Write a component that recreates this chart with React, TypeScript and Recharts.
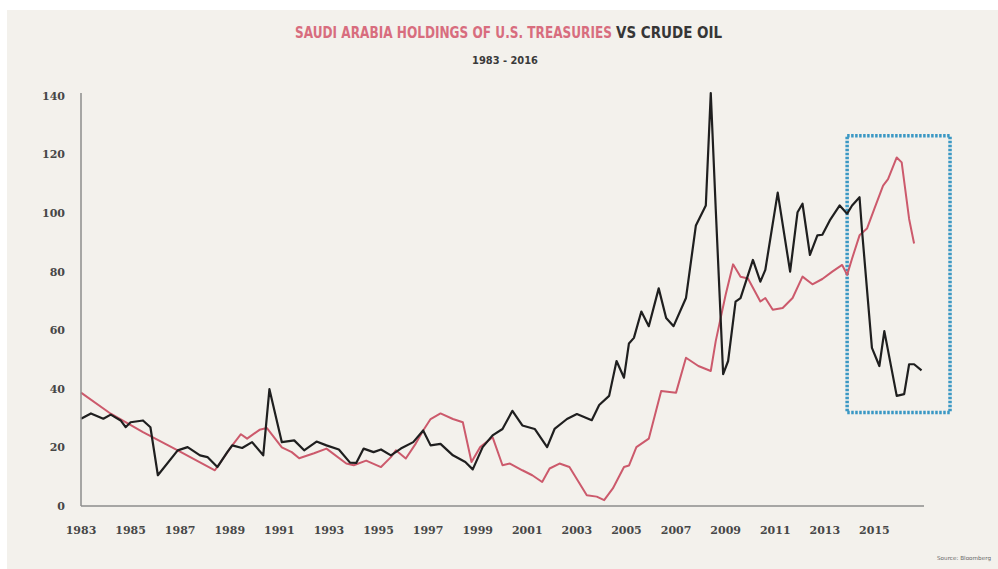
import { LineChart, Line, XAxis, YAxis, ReferenceArea } from "recharts";

// crude oil, $/barrel (black line)
const oilYears = [
  1983.0, 1983.4, 1983.9, 1984.2, 1984.6, 1984.8, 1985.0, 1985.5, 1985.8, 1986.1,
  1986.9, 1987.3, 1987.8, 1988.1, 1988.5, 1988.9, 1989.1, 1989.5, 1989.9, 1990.35,
  1990.6, 1991.1, 1991.6, 1992.0, 1992.5, 1992.9, 1993.4, 1993.85, 1994.1, 1994.4,
  1994.8, 1995.1, 1995.5, 1995.9, 1996.4, 1996.8, 1997.1, 1997.5, 1998.0, 1998.5,
  1998.8, 1999.2, 1999.6, 2000.0, 2000.4, 2000.8, 2001.3, 2001.8, 2002.1, 2002.6,
  2003.0, 2003.6, 2003.9, 2004.3, 2004.6, 2004.9, 2005.1, 2005.3, 2005.6, 2005.9,
  2006.3, 2006.6, 2006.9, 2007.4, 2007.8, 2008.2, 2008.4, 2008.6, 2008.9, 2009.1,
  2009.4, 2009.6, 2010.1, 2010.4, 2010.6, 2011.1, 2011.6, 2011.9, 2012.1, 2012.4,
  2012.7, 2012.9, 2013.2, 2013.6, 2013.9, 2014.1, 2014.4, 2014.5, 2014.9, 2015.2,
  2015.4, 2015.9, 2016.2, 2016.4, 2016.6, 2016.9,
];
const oilValues = [
  29.8, 31.6, 29.8, 31.2, 29.2, 26.9, 28.6, 29.2, 26.9, 10.5,
  19, 20.1, 17.3, 16.7, 13.3, 18.4, 20.7, 19.8, 21.8, 17.3,
  39.9, 21.8, 22.4, 19, 22, 20.7, 19.3, 14.8, 14.7, 19.6,
  18.4, 19.3, 17.3, 19.6, 21.8, 25.8, 20.7, 21.2, 17.3, 15,
  12.5, 20.1, 24.1, 26.3, 32.5, 27.5, 26.3, 20.1, 26.3, 29.7,
  31.4, 29.3, 34.5, 37.6, 49.5, 43.8, 55.5, 57.4, 66.4, 61.4,
  74.3, 64.2, 61.4, 71, 95.8, 102.6, 141, 101.5, 45, 49.5,
  69.8, 71, 84, 76.6, 80.6, 107, 80, 100.3, 103.2, 85.7,
  92.4, 92.6, 97.5, 102.6, 99.8, 102.6, 105.4, 94.1, 54, 47.8,
  59.7, 37.6, 38.2, 48.4, 48.4, 46.3,
];

// Saudi holdings of U.S. treasuries, $bn (red line)
const treasYears = [
  1983.0, 1984.2, 1985.5, 1986.9, 1988.4, 1989.1, 1989.45, 1989.7, 1990.2, 1990.5,
  1991.1, 1991.5, 1991.8, 1992.4, 1992.9, 1993.7, 1994.0, 1994.5, 1995.1, 1995.5,
  1995.7, 1996.1, 1996.5, 1996.8, 1997.1, 1997.5, 1998.0, 1998.4, 1998.75, 1999.1,
  1999.6, 2000.0, 2000.3, 2000.8, 2001.2, 2001.6, 2001.9, 2002.3, 2002.7, 2003.4,
  2003.8, 2004.1, 2004.45, 2004.9, 2005.1, 2005.4, 2005.9, 2006.4, 2007.0, 2007.4,
  2007.9, 2008.4, 2008.6, 2009.0, 2009.3, 2009.6, 2009.9, 2010.4, 2010.6, 2010.9,
  2011.3, 2011.7, 2012.1, 2012.5, 2012.9, 2013.3, 2013.7, 2013.9, 2014.1, 2014.4,
  2014.7, 2015.0, 2015.35, 2015.55, 2015.9, 2016.1, 2016.4, 2016.6,
];
const treasValues = [
  38.7, 31.5, 25.2, 19, 12.2, 20.7, 24.5, 23, 26, 26.6,
  20, 18.4, 16.3, 18, 19.6, 14.5, 13.9, 15.5, 13.3, 16.7,
  19, 16.2, 21.3, 25.8, 29.7, 31.6, 29.7, 28.6, 15, 20.1,
  23.5, 13.9, 14.5, 12.2, 10.5, 8.2, 12.8, 14.5, 13.3, 3.7,
  3.2, 2, 6, 13.3, 13.8, 20.1, 23, 39.3, 38.7, 50.6,
  47.8, 46.1, 56.3, 72.1, 82.5, 78.3, 77.7, 69.8, 71, 67,
  67.6, 71, 78.3, 75.7, 77.5, 80, 82.3, 78.9, 84.5, 92.4,
  94.7, 101.5, 109.4, 111.6, 119, 117.3, 98, 89.6,
];

const xTicks = [1983, 1985, 1987, 1989, 1991, 1993, 1995, 1997, 1999, 2001, 2003, 2005, 2007, 2009, 2011, 2013, 2015];
const yTicks = [0, 20, 40, 60, 80, 100, 120, 140];

const oilData = oilYears.map((t, i) => ({ t, v: oilValues[i] }));
const treasData = treasYears.map((t, i) => ({ t, v: treasValues[i] }));

const tickStyle = {
  fontFamily: "'DejaVu Serif', serif",
  fontWeight: 700,
  fontSize: 11,
  fill: "#474747",
};

export default function App() {
  return (
    <div
      style={{
        position: "fixed",
        left: 0,
        top: 0,
        width: 998,
        height: 569,
        background: "#ffffff",
        overflow: "hidden",
      }}
    >
      <div
        style={{
          position: "absolute",
          left: 7,
          top: 10,
          right: 0,
          bottom: 0,
          background: "#f3f1ec",
        }}
      />
      <svg
        width={998}
        height={569}
        style={{ position: "absolute", left: 0, top: 0 }}
      >
        {/* title: condensed look via horizontal scaling */}
        <g transform="translate(295,38) scale(0.782,1)">
          <text
            x={0}
            y={0}
            fontFamily="'DejaVu Sans', sans-serif"
            fontWeight={700}
            fontSize={15.5}
            fill="#d86d7e"
          >
            SAUDI ARABIA HOLDINGS OF U.S. TREASURIES
          </text>
        </g>
        <g transform="translate(616,38) scale(0.87,1)">
          <text
            x={0}
            y={0}
            fontFamily="'DejaVu Sans', sans-serif"
            fontWeight={700}
            fontSize={15.5}
            fill="#363636"
          >
            VS CRUDE OIL
          </text>
        </g>
        <text
          x={472}
          y={64}
          fontFamily="'DejaVu Sans', sans-serif"
          fontWeight={700}
          fontSize={10.5}
          fill="#3a3a3a"
          textLength={66}
          lengthAdjust="spacingAndGlyphs"
        >
          1983 - 2016
        </text>
        <text
          x={937}
          y={560}
          fontFamily="'DejaVu Sans', sans-serif"
          fontSize={5.5}
          fill="#666"
          textLength={54}
          lengthAdjust="spacingAndGlyphs"
        >
          Source: Bloomberg
        </text>
      </svg>
      <div style={{ position: "absolute", left: 0, top: 0 }}>
        <LineChart
          width={998}
          height={569}
          margin={{ top: 93, right: 74, bottom: 33, left: 41 }}
        >
          <XAxis
            type="number"
            dataKey="t"
            domain={[1983, 2017]}
            ticks={xTicks}
            allowDuplicatedCategory={false}
            tickLine={false}
            tickMargin={14}
            height={30}
            axisLine={{ stroke: "#8c8c8c", strokeWidth: 1.5 }}
            tick={tickStyle}
            interval={0}
          />
          <YAxis
            type="number"
            domain={[0, 140]}
            ticks={yTicks}
            tickLine={false}
            tickMargin={10}
            width={40}
            axisLine={{ stroke: "#8c8c8c", strokeWidth: 1.5 }}
            tick={tickStyle}
            interval={0}
          />
          <Line
            data={treasData}
            dataKey="v"
            type="linear"
            stroke="#cc5a6c"
            strokeWidth={2}
            strokeLinejoin="round"
            dot={false}
            activeDot={false}
            isAnimationActive={false}
          />
          <Line
            data={oilData}
            dataKey="v"
            type="linear"
            stroke="#1f1f1f"
            strokeWidth={2.2}
            strokeLinejoin="round"
            dot={false}
            activeDot={false}
            isAnimationActive={false}
          />
          <ReferenceArea
            x1={2013.9}
            x2={2018.05}
            y1={31.9}
            y2={126.4}
            ifOverflow="visible"
            fill="none"
            stroke="#3a98c4"
            strokeWidth={3.5}
            strokeDasharray="2.5 1.5"
          />
        </LineChart>
      </div>
    </div>
  );
}
